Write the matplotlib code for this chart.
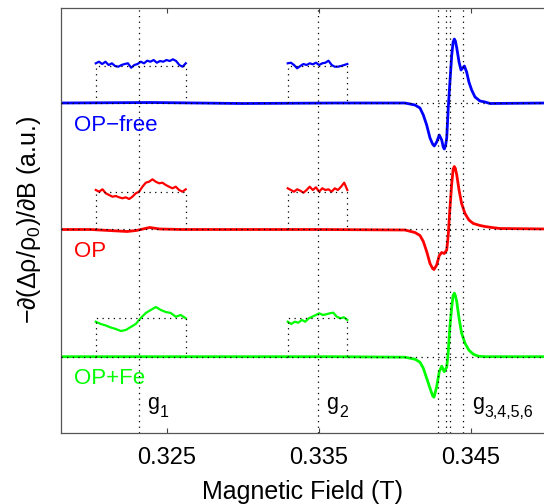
import matplotlib
matplotlib.use("Agg")
import matplotlib.pyplot as plt
import numpy as np

plt.rcParams['font.family'] = ['Liberation Sans', 'DejaVu Sans']
plt.rcParams['mathtext.fontset'] = 'custom'
plt.rcParams['mathtext.rm'] = 'Liberation Sans'
plt.rcParams['mathtext.it'] = 'Liberation Sans:italic'
plt.rcParams['mathtext.default'] = 'regular'

# ---- data (field in T, signal in a.u. relative to each trace baseline) ----
blue_x = [0.31800, 0.32400, 0.33000, 0.33600, 0.34068, 0.34134, 0.34167, 0.34189,
          0.34211, 0.34233, 0.34250, 0.34261, 0.34277, 0.34294, 0.34310, 0.34320,
          0.34327, 0.34335, 0.34343, 0.34353, 0.34364, 0.34376, 0.34385, 0.34393,
          0.34400, 0.34409, 0.34424, 0.34437, 0.34448, 0.34459, 0.34474, 0.34489,
          0.34507, 0.34529, 0.34562, 0.34595, 0.34628, 0.35000]
blue_y = [0.0, 0.05, -0.05, 0.0, 0.0, -0.2, -0.5, -1.2,
          -2.2, -3.5, -4.1, -4.3, -3.9, -3.2, -3.7, -4.4,
          -4.6, -4.3, -3.5, -0.5, 2.1, 4.8, 6.1, 6.4,
          6.2, 5.5, 4.1, 3.3, 3.5, 3.7, 3.1, 2.1,
          1.3, 0.6, 0.2, 0.1, -0.05, 0.0]

red_x = [0.31800, 0.32000, 0.32180, 0.32240, 0.32300, 0.32389, 0.32454, 0.32600,
         0.33500, 0.34068, 0.34134, 0.34167, 0.34189, 0.34211, 0.34233, 0.34250,
         0.34259, 0.34277, 0.34294, 0.34310, 0.34327, 0.34343, 0.34353, 0.34364,
         0.34376, 0.34385, 0.34393, 0.34400, 0.34409, 0.34424, 0.34441, 0.34463,
         0.34489, 0.34518, 0.34540, 0.34562, 0.34595, 0.34639, 0.34693, 0.35000]
red_y = [0.0, 0.0, -0.15, -0.2, -0.1, 0.2, 0.05, 0.0,
         0.0, -0.05, -0.3, -0.6, -1.2, -2.2, -3.4, -3.9,
         -4.0, -3.55, -2.6, -2.3, -2.4, -2.05, -0.55, 2.1,
         4.6, 6.0, 6.3, 6.1, 5.45, 3.95, 2.6, 1.6,
         0.95, 0.6, 0.5, 0.4, 0.3, 0.2, 0.1, 0.05]

green_x = [0.31800, 0.33600, 0.34068, 0.34134, 0.34167, 0.34189, 0.34211, 0.34233,
           0.34250, 0.34259, 0.34277, 0.34294, 0.34310, 0.34327, 0.34343, 0.34353,
           0.34364, 0.34376, 0.34385, 0.34393, 0.34400, 0.34409, 0.34424, 0.34441,
           0.34463, 0.34489, 0.34518, 0.34551, 0.34595, 0.35000]
green_y = [0.0, 0.0, -0.05, -0.25, -0.55, -1.15, -2.15, -3.15,
           -3.9, -4.05, -3.0, -1.5, -0.95, -1.5, -1.05, 0.5,
           3.0, 5.0, 6.1, 6.35, 6.1, 5.5, 3.85, 2.35,
           1.35, 0.65, 0.25, 0.05, 0.0, 0.0]

# magnified insets over the g1 and g2 regions
inset_g1 = [0.32034, 0.32626]
inset_g2 = [0.33297, 0.33689]

blue_g1 = [3.97, 4.13, 3.9, 4.13, 3.8, 3.97, 3.7, 3.63, 3.8, 3.9, 3.97, 3.53, 3.8, 3.9, 4.13,
           3.97, 4.23, 4.13, 4.3, 4.03, 4.2, 4.13, 4.3, 4.2, 4.37, 4.2, 3.8, 3.63, 3.97]
blue_g2 = [3.97, 4.03, 3.8, 3.47, 3.7, 3.9, 3.8, 3.97, 3.87, 4.03, 3.8, 3.97, 4.03, 4.23,
           3.8, 3.63, 3.63, 3.7, 3.8, 3.9]
red_g1 = [3.95, 3.78, 4.02, 3.62, 3.45, 3.28, 3.35, 3.22, 3.12, 3.22, 3.05, 3.28, 3.62, 3.78,
          4.28, 4.68, 4.78, 5.02, 4.78, 4.62, 4.68, 4.45, 4.28, 4.12, 4.28, 3.95, 3.78, 4.02]
red_g2 = [4.12, 3.95, 3.78, 4.02, 3.88, 3.68, 3.95, 4.28, 3.95, 4.22, 3.78, 4.12, 3.95, 4.02,
          3.78, 4.12, 3.95, 4.28, 4.68, 3.95]
green_g1 = [3.5, 3.27, 3.12, 2.92, 2.77, 2.57, 2.67, 2.97, 3.27, 3.87, 4.37, 4.67, 4.97, 4.67,
            4.47, 4.37, 4.0, 4.17, 3.84]
green_g2 = [3.5, 3.27, 3.5, 3.4, 3.67, 3.5, 3.84, 4.0, 4.17, 4.34, 4.17, 4.24, 4.34, 4.4,
            4.0, 3.84, 3.94, 3.67]

box_top = {'blue': 3.75, 'red': 3.78, 'green': 3.84}
baseline = {'blue': 33.0, 'red': 20.35, 'green': 7.63}

g_lines = [0.32318, 0.33499, 0.34284, 0.34338, 0.34364, 0.34450]
g_subs = ['1', '2', '3,4,5,6']
g_label_x = [0.32371, 0.33549, 0.34508]

names = ['OP\u2212free', 'OP', 'OP+Fe']
name_y = [30.23, 17.57, 4.85]

fig = plt.figure(figsize=(5.44, 5.04), dpi=100)
ax = fig.add_axes([0.1121, 0.1409, 0.8879, 0.8442])

traces = [('blue', blue_x, blue_y, blue_g1, blue_g2),
          ('red', red_x, red_y, red_g1, red_g2),
          ('green', green_x, green_y, green_g1, green_g2)]
colors = {'blue': (0, 0, 1), 'red': (1, 0, 0), 'green': (0, 1, 0)}

dot = dict(color='k', linestyle=(0, (1, 3.5)), linewidth=0.9, zorder=4)

for key, tx, ty, i1, i2 in traces:
    c = colors[key]
    b = baseline[key]
    ax.plot(tx, np.array(ty) + b, color=c, lw=2.0, solid_joinstyle='round', zorder=2)
    ax.axhline(b, **dot)
    for rng, vals in [(inset_g1, i1), (inset_g2, i2)]:
        xs = np.linspace(rng[0], rng[1], len(vals))
        ax.plot(xs, np.array(vals) + b, color=c, lw=1.6, solid_joinstyle='round', zorder=2)
        top = b + box_top[key]
        ax.plot([rng[0], rng[0], rng[1], rng[1]], [b, top, top, b], **dot)

for g in g_lines:
    ax.axvline(g, **dot)

for sub, gx in zip(g_subs, g_label_x):
    ax.text(gx, 2.4, 'g', fontsize=15.5, va='baseline', ha='left')
    ax.annotate(sub, xy=(gx, 2.4), xytext=(9.2, -6), textcoords='offset points',
                fontsize=11.5, va='baseline', ha='left')

for name, ny, key in zip(names, name_y, ['blue', 'red', 'green']):
    ax.text(0.31891, ny, name, color=colors[key], fontsize=16, va='baseline', ha='left')

ax.set_xlim(0.31805, 0.34983)
ax.set_ylim(0, 42.55)
ax.set_xticks([0.325, 0.335, 0.345])
ax.set_xticklabels(['0.325', '0.335', '0.345'])
ax.set_yticks([])
ax.tick_params(axis='x', direction='in', top=True, length=3.5, width=0.8,
               color='#444444', labelsize=17, pad=10)
for s in ['left', 'bottom', 'top']:
    ax.spines[s].set_color('#555555')
    ax.spines[s].set_linewidth(0.9)
ax.spines['right'].set_visible(False)

ax.set_xlabel('Magnetic Field (T)', fontsize=18, labelpad=8)
ax.set_ylabel(r'$-\partial(\Delta\rho/\rho_0)/\partial$B (a.u.)', fontsize=18)
ax.yaxis.set_label_coords(-0.037, 0.5)

fig.savefig('out.png', dpi=100)
